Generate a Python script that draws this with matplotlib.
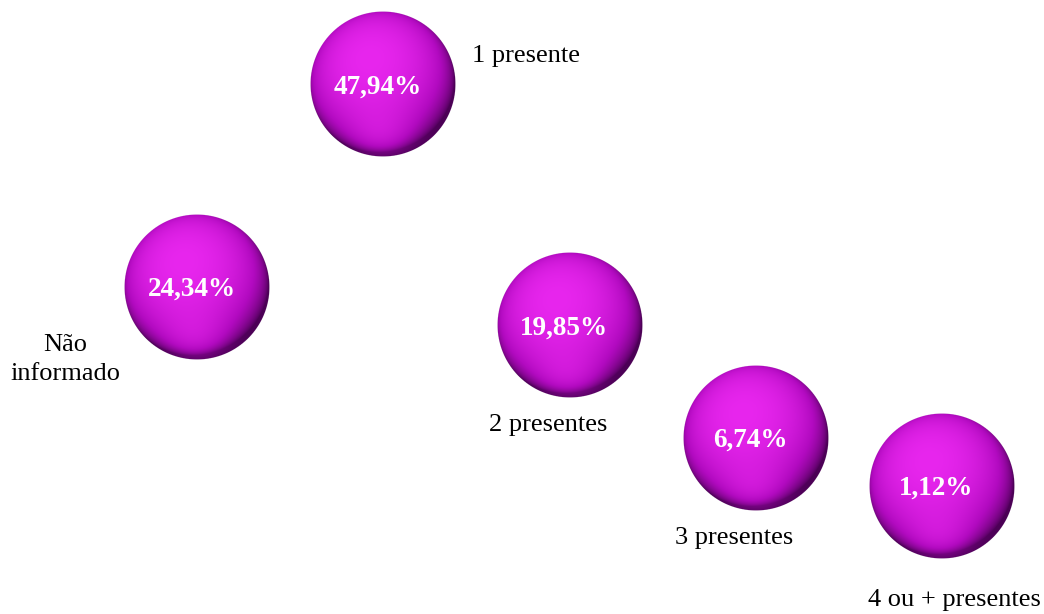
import matplotlib.pyplot as plt
import numpy as np
from matplotlib.offsetbox import OffsetImage, AnnotationBbox

categorias = ['Não\ninformado', '1 presente', '2 presentes', '3 presentes', '4 ou + presentes']
valores = [24.34, 47.94, 19.85, 6.74, 1.12]
rotulos = ['24,34%', '47,94%', '19,85%', '6,74%', '1,12%']

# where each category label sits relative to its sphere (pixels), and alignment
desloc = [(-132, -73, 'center'), (89, 28, 'left'), (-21, -100, 'center'),
          (-22, -100, 'center'), (12, -114, 'center')]

DPI = 100


def esfera(diam=146):
    n = diam * 2
    yy, xx = np.mgrid[-1:1:n * 1j, -1:1:n * 1j]
    yy = -yy
    r2 = xx ** 2 + yy ** 2
    z = np.sqrt(np.clip(1 - r2, 0, 1))
    luz = np.array([-0.18, 0.35, 0.92])
    luz = luz / np.linalg.norm(luz)
    dif = np.clip(xx * luz[0] + yy * luz[1] + z * luz[2], 0, 1)
    # soft reflection at the bottom
    luz2 = np.array([0.0, -0.8, 0.6])
    luz2 = luz2 / np.linalg.norm(luz2)
    ref = np.clip(xx * luz2[0] + yy * luz2[1] + z * luz2[2], 0, 1) ** 8 * 0.3
    t = np.clip(dif ** 0.8 + ref, 0, 1)
    escuro = np.array([75, 0, 85]) / 255
    medio = np.array([178, 10, 192]) / 255
    claro = np.array([232, 38, 238]) / 255
    cor = np.where(t[..., None] < 0.55,
                   escuro + (medio - escuro) * (t[..., None] / 0.55),
                   medio + (claro - medio) * ((t[..., None] - 0.55) / 0.45))
    r = np.sqrt(r2)
    alpha = np.clip((1 - r) * n / 2.5, 0, 1)
    img = np.dstack([cor, alpha])
    # downsample 2x for smoothness
    img = img.reshape(diam, 2, diam, 2, 4).mean(axis=(1, 3))
    return img


fig = plt.figure(figsize=(10.44, 6.14), dpi=DPI)
ax = fig.add_axes([0, 0, 1, 1])
ax.set_xlim(-1.058, 4.547)
ax.set_ylim(-13.81, 57.79)
ax.axis('off')

img = esfera()
x = np.arange(len(valores))
for i, v in enumerate(valores):
    ab = AnnotationBbox(OffsetImage(img, zoom=72 / DPI), (x[i], v), frameon=False, pad=0)
    ax.add_artist(ab)
    ax.text(x[i] - 0.03, v - 0.3, rotulos[i], color='white', fontsize=19.5, fontweight='bold',
            family='Liberation Serif', ha='center', va='center', zorder=5)
    dx, dy, ha = desloc[i]
    ax.annotate(categorias[i], (x[i], v), xytext=(dx, dy), textcoords='offset pixels',
                ha=ha, va='center', fontsize=19, family='Liberation Serif',
                linespacing=1.42, color='black')

fig.savefig('out.png', dpi=DPI)
